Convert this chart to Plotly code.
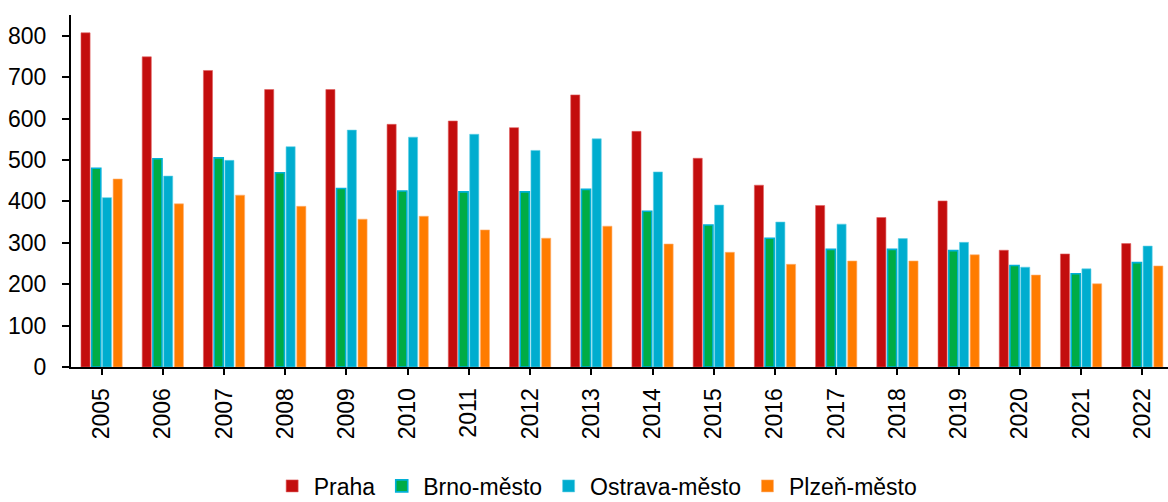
import plotly.graph_objects as go

years = [str(y) for y in range(2005, 2023)]

praha = [807, 749, 716, 670, 670, 586, 594, 578, 657, 569, 504, 439, 390, 361, 401, 282, 273, 298]
brno = [480, 503, 505, 469, 431, 425, 423, 423, 429, 376, 343, 311, 284, 284, 281, 245, 225, 252]
ostrava = [409, 461, 499, 532, 572, 555, 562, 523, 551, 471, 391, 350, 345, 310, 301, 241, 237, 292]
plzen = [454, 394, 415, 388, 357, 364, 331, 311, 340, 297, 277, 248, 256, 256, 271, 222, 201, 244]

fig = go.Figure()

fig.add_trace(go.Bar(
    x=years, y=praha, name='Praha',
    marker=dict(color='#C30D0D', line=dict(color='#E06060', width=0.6))
))
fig.add_trace(go.Bar(
    x=years, y=brno, name='Brno-město',
    marker=dict(color='#00AC45', line=dict(color='#00B0D6', width=1.6))
))
fig.add_trace(go.Bar(
    x=years, y=ostrava, name='Ostrava-město',
    marker=dict(color='#00ADCF', line=dict(color='#60D0E8', width=0.6))
))
fig.add_trace(go.Bar(
    x=years, y=plzen, name='Plzeň-město',
    marker=dict(color='#FF7C00', line=dict(color='#FFB070', width=0.6))
))

fig.update_layout(
    width=1168, height=502,
    barmode='group',
    bargap=0.30,
    bargroupgap=0.15,
    paper_bgcolor='white',
    plot_bgcolor='white',
    font=dict(family='Liberation Sans, Arial, sans-serif', size=23, color='#000000'),
    margin=dict(l=71, r=0, t=15, b=135),
    showlegend=True,
    legend=dict(
        orientation='h',
        x=0.182, xanchor='left',
        yref='container',
        y=0.032, yanchor='middle',
        font=dict(size=23),
        itemwidth=33,
        traceorder='normal',
        itemclick=False,
    ),
    xaxis=dict(
        type='category',
        range=[-0.5, 17.42],
        automargin=False,
        showline=True, linecolor='#000000', linewidth=2,
        ticks='outside', ticklen=6, tickwidth=2, tickcolor='#000000',
        tickangle=-90,
        ticklabelstandoff=4,
        tickfont=dict(size=23),
        showgrid=False,
        zeroline=False,
    ),
    yaxis=dict(
        range=[0, 850],
        automargin=False,
        tickvals=[0, 100, 200, 300, 400, 500, 600, 700, 800],
        showline=True, linecolor='#000000', linewidth=2,
        ticks='outside', ticklen=7, tickwidth=2, tickcolor='#000000',
        ticklabelstandoff=11,
        tickfont=dict(size=23),
        showgrid=False,
        zeroline=False,
    ),
)

# page body has a default 8px margin; drop it so the figure sits at 0,0
fig.write_html(
    "out.html",
    config={'displayModeBar': False},
    post_script="document.body.style.margin='0';",
)
